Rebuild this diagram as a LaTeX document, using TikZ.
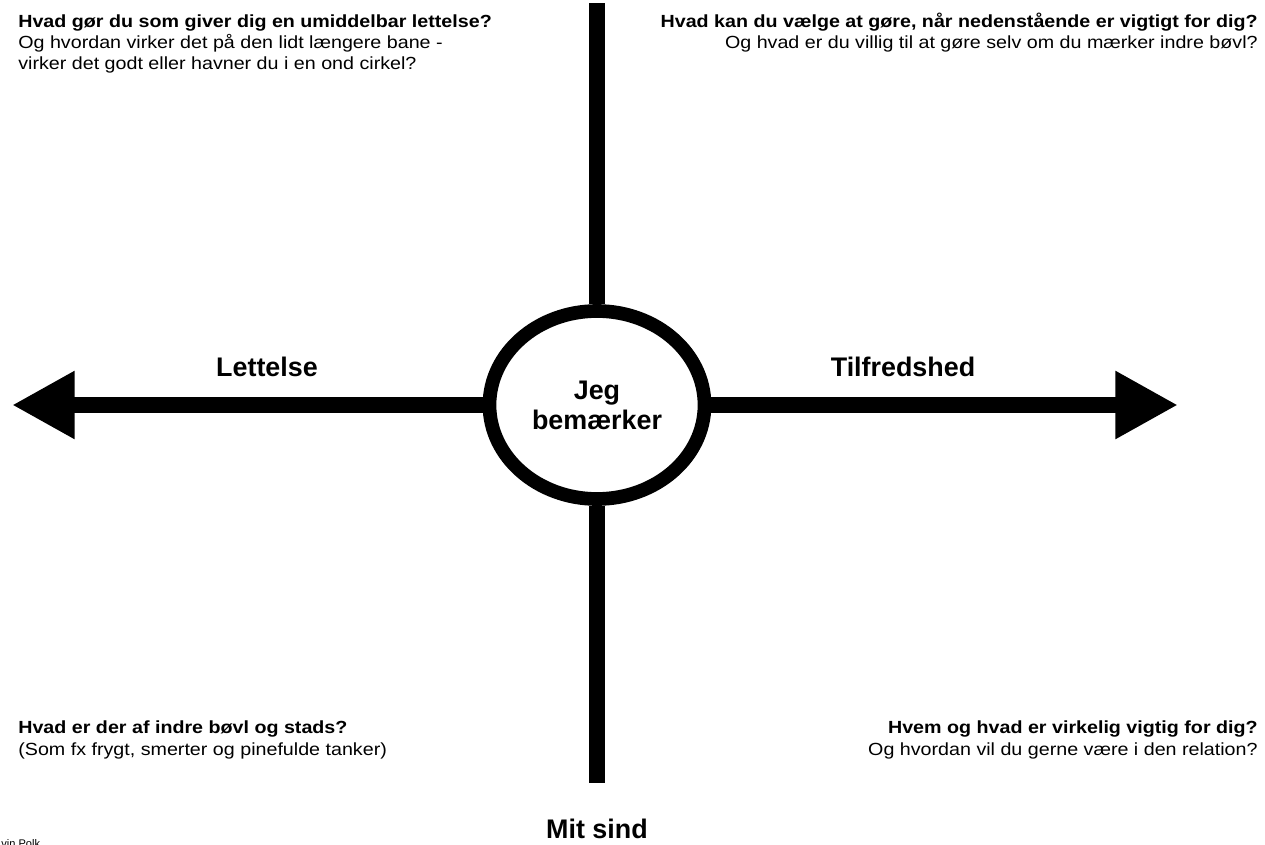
\documentclass[tikz,border=0pt]{standalone}
\usepackage{fontspec}
\setmainfont{Liberation Sans}
\newfontfamily\questionfont[FakeStretch=1.12]{Liberation Sans}
\usetikzlibrary{arrows.meta,shapes.geometric}

\tikzset{
  axis/.style={line width=9.2pt},
  bigarrow/.style={axis,-{Triangle[length=35.7pt,width=36.3pt]}},
  ring/.style={ellipse,draw,fill=white,line width=7.8pt,inner sep=0pt,
    minimum width=122.4pt,minimum height=107pt,align=center,
    font=\fontsize{15.3}{17}\selectfont\bfseries},
  axislabel/.style={inner sep=0pt,font=\fontsize{15.3}{18}\selectfont\bfseries},
  question/.style={inner sep=0pt,font=\questionfont\fontsize{10}{12.2}\selectfont}
}

\begin{document}
\begin{tikzpicture}[x=0.02cm,y=-0.02cm]
\fill[white] (0,0) rectangle (1265,845);
\useasboundingbox (0,0) rectangle (1265,845);

\node[ring] (mind) at (597,405) {Jeg\\bem\ae rker};
\coordinate (top) at (597,3);
\coordinate (bottom) at (597,783);
\coordinate (left) at (12,405);
\coordinate (right) at (1178,405);

\draw[axis] (top) -- (mind) (mind) -- (bottom);
\draw[bigarrow] (mind) -- (left);
\draw[bigarrow] (mind) -- (right);

\node[axislabel] (relief) at (267,367) {Lettelse};
\node[axislabel] (satisfaction) at (903,367) {Tilfredshed};
\node[axislabel,anchor=base] (mindlabel) at (597,838) {Mit sind};

\node[question,anchor=base west,align=left] (relieftext) at (18,70)
  {\textbf{Hvad gør du som giver dig en umiddelbar lettelse?}\\
   Og hvordan virker det på den lidt længere bane -\\
   virker det godt eller havner du i en ond cirkel?};
\node[question,anchor=base east,align=right] (choicetext) at (1258,49)
  {\textbf{Hvad kan du vælge at gøre, når nedenstående er vigtigt for dig?}\\
   Og hvad er du villig til at gøre selv om du mærker indre bøvl?};
\node[question,anchor=base west,align=left] (troubletext) at (18,755)
  {\textbf{Hvad er der af indre bøvl og stads?}\\
   (Som fx frygt, smerter og pinefulde tanker)};
\node[question,anchor=base east,align=right] (valuetext) at (1258,755)
  {\textbf{Hvem og hvad er virkelig vigtig for dig?}\\
   Og hvordan vil du gerne være i den relation?};

\node[inner sep=0pt,anchor=base west,font=\fontsize{6.3}{7}\selectfont] (credit) at (1,847) {vin Polk};
\end{tikzpicture}
\end{document}
